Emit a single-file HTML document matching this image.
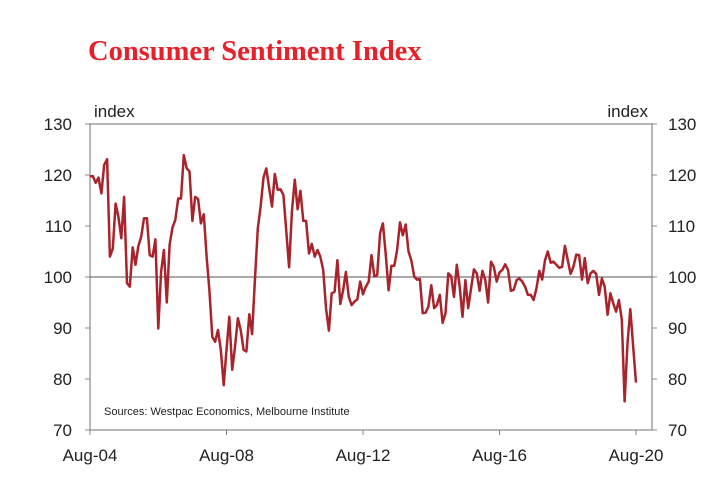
<!DOCTYPE html>
<html><head><meta charset="utf-8"><style>
body{margin:0;background:#fff;width:714px;height:494px;overflow:hidden}
svg text{font-family:"Liberation Sans",Arial,sans-serif}
</style></head><body>
<svg id="c" width="714" height="494">
<text x="88" y="60" fill="#e8202a" font-size="28.5" font-weight="bold" style="font-family:'Liberation Serif',serif">Consumer Sentiment Index</text>
<text x="94" y="117" font-size="17" fill="#222">index</text>
<text x="648" y="117" font-size="17" fill="#222" text-anchor="end">index</text>
<text x="104" y="415" font-size="11" fill="#222">Sources: Westpac Economics, Melbourne Institute</text>
<g id="ax"></g><g id="ln"></g>
</svg>
<script>
const yTicks=[70,80,90,100,110,120,130];
const xLabels=["Aug-04","Aug-08","Aug-12","Aug-16","Aug-20"];
const xLabelIdx=[0,48,96,144,192];
const sentiment=[119.7,119.8,118.5,119.5,116.4,122.0,123.1,104.0,105.6,114.4,111.8,107.6,115.7,98.8,98.1,105.8,102.4,106.0,107.9,111.5,111.5,104.3,104.0,107.4,89.9,101.0,105.3,95.0,106.3,109.7,111.2,115.4,115.4,123.9,121.3,120.7,111.0,115.7,115.3,110.5,112.3,104.0,97.4,88.3,87.3,89.6,85.7,78.8,85.7,92.2,81.8,86.3,91.9,89.6,85.7,85.4,92.7,88.8,99.4,109.5,113.8,119.5,121.3,117.4,113.8,120.2,117.1,
117.2,116.1,109.2,101.9,112.8,119.1,113.3,116.9,111.0,111.0,104.6,106.5,104.0,105.3,104.0,101.4,93.9,89.5,96.8,97.1,103.3,94.7,97.4,101.0,96.1,94.5,95.2,95.6,99.1,96.6,98.1,99.1,104.3,100.1,100.4,108.6,110.5,104.3,97.4,102.2,102.2,105.3,110.7,108.2,110.3,105.0,103.3,100.1,99.5,99.6,92.9,93.0,94.2,98.4,93.9,94.5,96.5,91.0,92.9,100.7,100.1,96.1,102.4,
98.1,92.2,99.4,93.9,97.8,101.5,100.7,97.3,101.2,99.4,95.0,103.0,102.0,99.1,100.9,101.4,102.5,101.4,97.3,97.5,99.4,99.7,99.1,98.1,96.5,96.5,95.5,97.8,101.2,99.5,103.3,105.0,102.8,103.0,102.4,101.8,102.0,106.1,103.3,100.6,102.0,104.4,104.3,99.5,103.7,98.8,100.7,101.2,100.6,96.5,99.7,98.1,92.6,96.8,94.8,93.2,95.5,91.6,75.6,87.0,93.7,86.3,79.3];
const L=90,R=652,T=124,B=430;
const y=v=>B-(v-70)/60*(B-T);
const x=i=>L+i*(636-L)/192;
const NS="http://www.w3.org/2000/svg";
const ax=document.getElementById('ax'),ln=document.getElementById('ln');
function mk(p,t,a){const e=document.createElementNS(NS,t);for(const k in a)e.setAttribute(k,a[k]);p.appendChild(e);return e;}
let e;
e=mk(ax,'rect',{x:L,y:T,width:R-L,height:B-T,fill:'none',stroke:'#888','stroke-width':1.2});


e=mk(ax,'line',{x1:L,x2:R,y1:y(100),y2:y(100),stroke:'#555','stroke-width':1});


yTicks.forEach(v=>{
 mk(ax,'line',{x1:L-5,x2:L,y1:y(v),y2:y(v),stroke:'#888'});
 mk(ax,'line',{x1:R,x2:R+5,y1:y(v),y2:y(v),stroke:'#888'});
 let t=mk(ax,'text',{x:72,y:y(v)+6,'font-size':17,'text-anchor':'end',fill:'#222'});t.textContent=v;
 
 
 t=mk(ax,'text',{x:668,y:y(v)+6,'font-size':17,fill:'#222'});t.textContent=v;
 
 
});
xLabels.forEach((s,k)=>{
 const xx=x(xLabelIdx[k]);
 mk(ax,'line',{x1:xx,x2:xx,y1:B,y2:B+5,stroke:'#888'});
 const t=mk(ax,'text',{x:xx,y:461,'font-size':17,'text-anchor':'middle',fill:'#222'});t.textContent=s;
 
 
});
e=mk(ln,'polyline',{points:sentiment.map((v,i)=>x(i).toFixed(1)+','+y(v).toFixed(1)).join(' '),fill:'none',stroke:'#a8232b','stroke-width':2.5,'stroke-linejoin':'round'});


</script>
</body></html>
